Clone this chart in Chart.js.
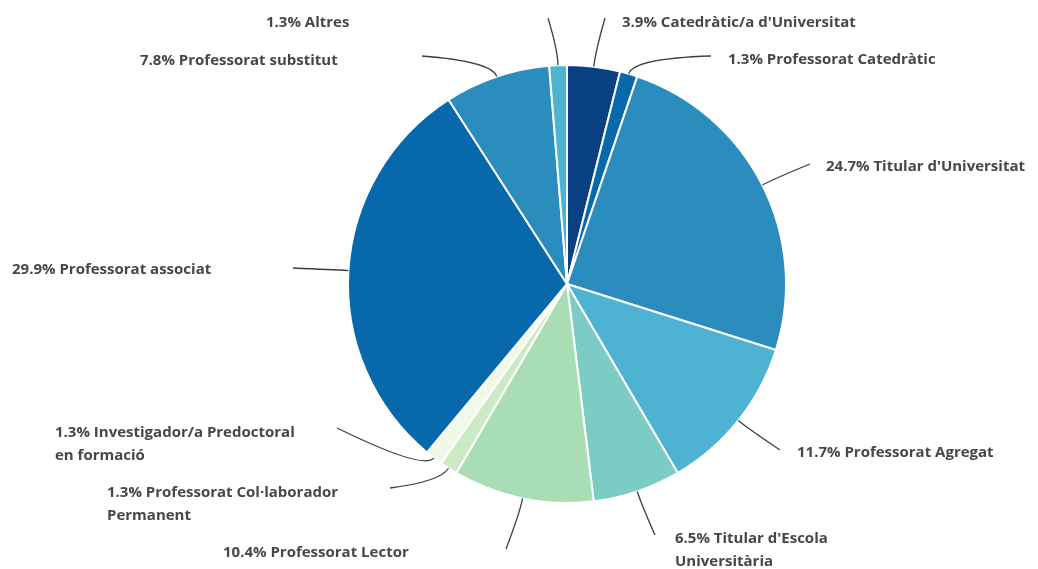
<!DOCTYPE html>
<html>
<head>
<meta charset="utf-8">
<script src="https://cdn.jsdelivr.net/npm/chart.js@4/dist/chart.umd.min.js"></script>
<style>
    html, body { margin: 0; padding: 0; background: #ffffff; }
    #pieChart { display: block; }
</style>
</head>
<body>
<canvas id="pieChart" width="1038" height="569"></canvas>
<script>
// ==================== DATA ====================

var categories = [
    "Catedràtic/a d'Universitat",
    "Professorat Catedràtic",
    "Titular d'Universitat",
    "Professorat Agregat",
    "Titular d'Escola Universitària",
    "Professorat Lector",
    "Professorat Col·laborador Permanent",
    "Investigador/a Predoctoral en formació",
    "Professorat associat",
    "Professorat substitut",
    "Altres"
];
var values = [3.9, 1.3, 24.7, 11.7, 6.5, 10.4, 1.3, 1.3, 29.9, 7.8, 1.3];
var colors = ["#084081", "#0868ac", "#2b8cbe", "#4eb3d3", "#7bccc4", "#a8ddb5",
              "#ccebc5", "#f0f9e8", "#0868ac", "#2b8cbe", "#4eb3d3"];

// label layout, offsets from the pie centre
var lineEndX = [38, 144, 243, 213, 88, -61, -177, -230, -274, -145, -19];
var lineEndY = [-266, -228, -120, 166, 251, 265, 204, 144, -16, -228, -266];
var labelX = [55, 161, 259, 230, 108, -344, -460, -512, -555, -427, -301];
var labelY = [-261, -224, -117, 169, 255, 269, 209, 149, -14, -223, -261];
var wrapWidth = 262;

var labelFont = "700 15px 'Open Sans', sans-serif";

function wrapText(ctx, text, maxWidth) {
    var words = text.split(" ");
    var lines = [];
    var line = "";
    for (var i = 0; i < words.length; i++) {
        var test = line ? line + " " + words[i] : words[i];
        if (line && ctx.measureText(test).width > maxWidth) {
            lines.push(line);
            line = words[i];
        } else {
            line = test;
        }
    }
    if (line) lines.push(line);
    return lines;
}

var leaderLabels = {
    id: "leaderLabels",
    afterDatasetsDraw: function(chart) {
        var ctx = chart.ctx;
        var meta = chart.getDatasetMeta(0);
        ctx.save();
        for (var i = 0; i < meta.data.length; i++) {
            var p = meta.data[i].getProps(["x", "y", "startAngle", "endAngle", "outerRadius"], true);
            var mid = (p.startAngle + p.endAngle) / 2;
            var sx = p.x + Math.cos(mid) * p.outerRadius;
            var sy = p.y + Math.sin(mid) * p.outerRadius;
            var cx = p.x + Math.cos(mid) * (p.outerRadius + 16);
            var cy = p.y + Math.sin(mid) * (p.outerRadius + 16);
            var ex = p.x + lineEndX[i];
            var ey = p.y + lineEndY[i];

            ctx.beginPath();
            ctx.moveTo(sx, sy);
            ctx.quadraticCurveTo(cx, cy, ex, ey);
            ctx.strokeStyle = "#3a3f4b";
            ctx.lineWidth = 1.3;
            ctx.stroke();

            ctx.font = labelFont;
            ctx.fillStyle = "#474747";
            ctx.textAlign = "left";
            ctx.textBaseline = "middle";
            var text = values[i].toFixed(1) + "% " + categories[i];
            var maxW = (i === 4) ? 170 : wrapWidth;
            var lines = wrapText(ctx, text, maxW);
            for (var j = 0; j < lines.length; j++) {
                ctx.fillText(lines[j], p.x + labelX[i], p.y + labelY[i] + j * 23);
            }
        }
        ctx.restore();
    }
};

var ctx = document.getElementById("pieChart").getContext("2d");
new Chart(ctx, {
    type: "pie",
    data: {
        labels: categories,
        datasets: [{
            data: values,
            backgroundColor: colors,
            borderColor: "#ffffff",
            borderWidth: 2
        }]
    },
    options: {
        responsive: false,
        animation: false,
        layout: {
            padding: { left: 347, right: 251, top: 64, bottom: 65 }
        },
        plugins: {
            legend: { display: false },
            tooltip: { enabled: false }
        }
    },
    plugins: [leaderLabels]
});
</script>
</body>
</html>
